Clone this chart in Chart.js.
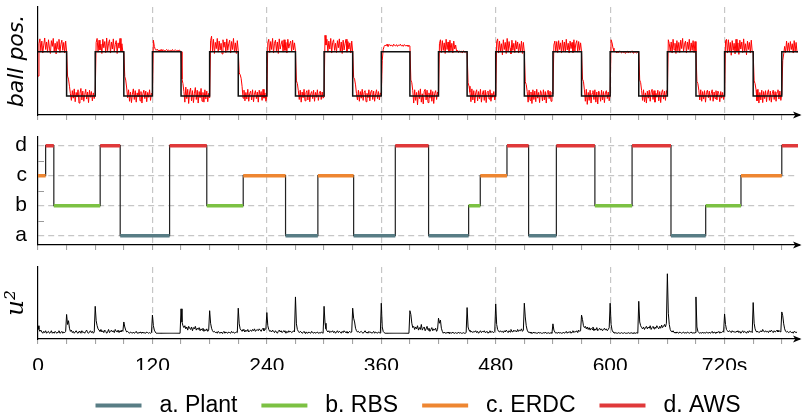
<!DOCTYPE html>
<html><head><meta charset="utf-8">
<script src="https://cdn.jsdelivr.net/npm/chart.js@4.4.1/dist/chart.umd.min.js"></script>
<style>
html,body{margin:0;padding:0;background:#fff;overflow:hidden;width:802px;height:418px;}
#wrap{position:relative;width:802px;height:418px;overflow:hidden;background:#fff;}
canvas{position:absolute;left:0;}
</style></head><body>
<div id="wrap">
<canvas id="cPos" width="838" height="125" style="top:0px"></canvas>
<canvas id="cCtrl" width="838" height="130" style="top:125px"></canvas>
<canvas id="cU" width="838" height="172" style="top:255px"></canvas>
</div>
<script>
// ---------------- data ----------------
const xTicks = [0,30,60,90,120,150,180,210,240,270,300,330,360,390,420,450,480,510,540,570,600,630,660,690,720,750,780];
const xLabelTicks = [0,120,240,360,480,600,720];
const xLabelText = ['0','120','240','360','480','600','720s'];

// reference (black square wave), held until next time
const refTimes = [0,30,60,90,120,150,180,210,240,270,300,330,360,390,420,450,480,510,540,570,600,630,660,690,720,750,780,797];
const refLevel = [1,0,1,0,1,0,1,0,1,0,1,0,1,0,1,0,1,0,1,0,1,0,1,0,1,0,1,1];

// measured ball position (red), one sample per second
const ballPos = [
 0.45,1.18,1.29,1.02,1.24,0.97,1.15,1.31,1.05,1.22,0.99,1.27,1.08,0.96,1.25,1.12,1.30,1.01,1.19,0.95,1.23,1.06,1.28,0.98,1.17,1.26,1.03,1.21,0.97,1.24,
 1.00,0.45,0.38,0.22,0.05,-0.10,0.12,-0.05,0.16,-0.13,0.08,-0.02,0.14,-0.16,0.06,0.17,-0.09,0.11,-0.12,0.03,0.15,-0.07,0.09,-0.15,0.13,-0.03,0.10,-0.11,0.07,-0.06,
 0.03,1.21,1.30,0.99,1.26,1.04,1.17,0.96,1.28,1.09,1.23,0.98,1.31,1.02,1.19,1.27,0.97,1.22,1.06,1.29,1.00,1.16,1.25,0.96,1.20,1.08,1.30,1.01,1.18,0.99,
 0.99,0.44,0.36,0.18,-0.04,0.14,-0.12,0.09,-0.15,0.04,0.16,-0.08,0.12,-0.14,0.07,-0.02,0.15,-0.11,0.10,-0.16,0.05,0.13,-0.06,0.11,-0.13,0.08,-0.03,0.14,-0.10,0.06,
 0.02,1.26,1.12,1.05,1.03,1.06,1.02,1.04,1.01,1.05,1.02,1.03,1.04,1.01,1.03,1.05,1.02,1.04,1.01,1.03,1.02,1.05,1.01,1.03,1.04,1.02,1.03,1.01,1.04,1.02,
 1.00,0.38,0.28,0.10,-0.14,0.20,-0.06,0.15,-0.17,0.09,0.18,-0.11,0.12,-0.15,0.05,0.19,-0.08,0.13,-0.16,0.10,-0.04,0.17,-0.12,0.08,-0.14,0.14,-0.07,0.11,-0.13,0.06,
 -0.04,1.25,1.35,1.02,1.28,0.96,1.21,1.07,1.30,0.99,1.24,1.04,1.19,0.95,1.27,1.10,1.22,0.98,1.29,1.03,1.18,1.26,0.97,1.23,1.05,1.30,1.00,1.20,0.96,1.25,
 1.02,0.52,0.48,0.40,0.22,-0.05,0.13,-0.11,0.08,-0.07,0.15,-0.12,0.06,0.11,-0.09,0.14,-0.13,0.04,0.12,-0.06,0.09,-0.14,0.13,-0.02,0.10,-0.10,0.15,-0.05,0.07,-0.12,
 0.00,1.20,1.28,0.98,1.23,1.05,1.30,0.97,1.19,1.26,1.02,1.22,0.96,1.29,1.06,1.17,1.25,0.99,1.27,1.03,1.21,0.97,1.28,1.08,1.18,1.24,1.00,1.26,1.04,1.20,
 1.01,0.34,0.28,0.12,-0.08,0.13,-0.14,0.09,-0.04,0.15,-0.11,0.07,0.12,-0.09,0.14,-0.13,0.05,0.10,-0.06,0.13,-0.12,0.08,-0.03,0.14,-0.10,0.06,0.11,-0.08,0.09,-0.05,
 -0.02,1.37,1.15,1.28,0.99,1.24,1.06,1.30,0.97,1.21,1.27,1.03,1.19,0.98,1.25,1.09,1.29,1.00,1.22,0.96,1.26,1.04,1.18,1.28,0.99,1.23,1.06,1.20,0.97,1.24,
 1.00,0.42,0.38,0.25,0.05,-0.09,0.13,-0.12,0.10,-0.05,0.15,-0.10,0.08,0.12,-0.13,0.06,-0.04,0.14,-0.11,0.09,0.13,-0.08,0.11,-0.12,0.05,0.14,-0.06,0.10,-0.09,0.07,
 0.00,0.80,1.05,1.12,1.15,1.13,1.17,1.12,1.14,1.16,1.13,1.15,1.12,1.17,1.14,1.13,1.16,1.12,1.15,1.14,1.17,1.13,1.15,1.12,1.16,1.14,1.13,1.15,1.12,1.14,
 1.13,0.36,0.30,0.12,-0.16,0.14,-0.10,0.08,-0.20,0.12,-0.06,0.16,-0.14,0.05,-0.18,0.11,0.15,-0.09,0.13,-0.15,0.07,-0.05,0.14,-0.12,0.10,-0.17,0.06,0.12,-0.08,0.09,
 0.02,1.18,1.27,0.98,1.25,1.03,1.20,0.96,1.28,1.05,1.22,0.99,1.26,1.02,1.19,0.97,1.24,1.06,1.15,1.00,1.03,0.98,1.02,0.99,1.01,0.97,1.02,1.00,0.98,1.01,
 0.99,0.30,0.22,0.08,-0.13,0.16,-0.09,0.12,-0.16,0.07,0.14,-0.11,0.10,-0.06,0.15,-0.14,0.04,0.12,-0.10,0.13,-0.15,0.08,0.11,-0.07,0.14,-0.12,0.06,-0.03,0.10,-0.09,
 0.02,1.22,1.29,0.97,1.24,1.02,1.18,0.93,1.27,1.05,1.21,0.96,1.30,1.01,1.23,1.08,0.95,1.26,1.03,1.19,0.98,1.25,1.06,1.22,0.97,1.18,1.01,1.24,0.96,1.21,
 1.00,0.32,0.26,0.10,-0.14,0.13,-0.10,0.09,-0.17,0.14,-0.08,0.11,-0.13,0.15,-0.05,0.08,-0.15,0.12,0.06,-0.11,0.14,-0.09,0.10,-0.16,0.07,0.13,-0.06,0.11,-0.12,0.08,
 0.05,1.15,1.24,1.00,1.23,0.98,1.25,1.05,1.20,0.97,1.26,1.02,1.22,0.99,1.28,1.04,1.19,0.97,1.24,1.07,1.21,0.98,1.27,1.01,1.18,1.25,0.99,1.23,1.03,1.20,
 1.00,0.38,0.33,0.14,-0.12,0.15,-0.19,0.08,-0.10,0.13,-0.16,0.06,0.12,-0.08,0.14,-0.14,0.09,-0.18,0.11,0.05,-0.12,0.13,-0.09,0.10,-0.15,0.07,0.12,-0.06,0.09,-0.11,
 0.03,1.27,1.20,1.08,1.02,0.99,1.01,0.97,1.00,0.98,1.02,0.99,0.97,1.01,0.98,1.00,0.96,0.99,1.01,0.97,1.00,0.98,0.99,1.02,0.97,0.99,1.00,0.98,0.97,0.99,
 0.99,0.36,0.30,0.12,-0.10,0.14,-0.13,0.07,-0.16,0.11,-0.05,0.13,-0.12,0.09,0.15,-0.08,0.12,-0.14,0.06,-0.03,0.13,-0.11,0.10,-0.15,0.08,0.14,-0.07,0.11,-0.10,0.12,
 0.04,1.27,1.18,1.01,1.22,0.97,1.28,1.04,1.19,0.96,1.25,1.02,1.21,0.98,1.26,1.07,1.30,1.00,1.17,1.24,0.97,1.22,1.05,1.28,0.99,1.20,1.03,1.25,0.98,1.23,
 1.00,0.33,0.28,0.13,-0.09,0.14,-0.12,0.10,-0.07,0.12,-0.14,0.08,0.13,-0.04,0.11,-0.10,0.06,0.14,-0.12,0.09,-0.06,0.12,-0.09,0.11,0.05,-0.13,0.10,-0.05,0.08,-0.08,
 0.03,1.24,1.28,0.97,1.27,1.00,1.21,0.92,1.25,1.03,1.19,0.95,1.28,1.01,1.20,0.94,1.26,1.06,1.22,0.98,1.29,1.02,1.18,0.93,1.24,1.05,1.21,0.97,1.26,1.00,
 0.98,0.34,0.28,0.14,-0.11,0.15,-0.16,0.08,-0.09,0.13,-0.15,0.10,-0.06,0.12,-0.13,0.07,0.14,-0.10,0.11,-0.14,0.05,0.13,-0.08,0.10,-0.12,0.09,0.14,-0.07,0.11,-0.10,
 0.05,0.80,0.95,1.12,0.98,1.24,1.02,1.20,0.99,1.23,1.05,1.18,0.97,1.25,1.01,1.21,0.98
];

// active controller: switching times and level held after each switch
const ctrlSwitchT = [0,8,16.6,65.2,86.2,138,177,215.2,259.6,293.5,331,374.7,409.6,451.6,463.8,491.8,514.5,543.6,584,623,663.8,700.2,737.2,780,797];
const ctrlLevel = ['c','d','b','d','a','d','b','c','a','c','a','d','a','b','c','d','a','d','b','d','a','b','c','d'];
const ctrlKeys = ['a','b','c','d'];
const ctrlNames = ['a. Plant','b. RBS','c. ERDC','d. AWS'];
const levelTicks = [1,1.5,2,2.5,3,3.5,4];

// control effort u^2, one sample per second
const uSquared = [
 0.12,0.06,0.03,0.05,0.02,0.00,0.03,0.01,0.04,0.00,0.02,0.03,0.00,0.01,0.04,0.00,0.02,0.00,0.03,0.01,0.00,0.02,0.04,0.00,0.01,0.03,0.00,0.02,0.01,0.03,
 0.30,0.14,0.20,0.08,0.03,0.05,0.01,0.03,0.00,0.02,0.04,0.01,0.00,0.03,0.02,0.00,0.04,0.01,0.02,0.00,0.03,0.05,0.01,0.00,0.02,0.04,0.01,0.03,0.00,0.02,
 0.43,0.20,0.12,0.07,0.05,0.03,0.06,0.02,0.04,0.01,0.05,0.03,0.00,0.02,0.06,0.01,0.03,0.05,0.02,0.04,0.01,0.06,0.03,0.02,0.05,0.01,0.04,0.02,0.05,0.03,
 0.18,0.10,0.05,0.02,0.03,0.01,0.00,0.02,0.01,0.00,0.02,0.00,0.01,0.03,0.00,0.01,0.00,0.02,0.01,0.00,0.02,0.00,0.01,0.00,0.02,0.01,0.00,0.01,0.00,0.01,
 0.29,0.12,0.05,0.02,0.00,0.00,0.00,0.00,0.00,0.00,0.00,0.00,0.00,0.00,0.00,0.00,0.00,0.00,0.00,0.00,0.00,0.00,0.00,0.00,0.00,0.00,0.00,0.00,0.00,0.00,
 0.39,0.18,0.12,0.09,0.12,0.07,0.10,0.05,0.11,0.08,0.06,0.10,0.04,0.09,0.07,0.11,0.05,0.08,0.06,0.09,0.04,0.07,0.05,0.08,0.03,0.06,0.04,0.07,0.03,0.05,
 0.36,0.16,0.08,0.04,0.02,0.03,0.01,0.02,0.00,0.03,0.01,0.00,0.02,0.00,0.01,0.03,0.00,0.02,0.01,0.00,0.02,0.01,0.00,0.03,0.01,0.02,0.00,0.01,0.02,0.01,
 0.40,0.15,0.07,0.05,0.03,0.06,0.04,0.02,0.05,0.03,0.06,0.02,0.04,0.05,0.03,0.06,0.04,0.07,0.03,0.05,0.06,0.04,0.07,0.05,0.03,0.06,0.08,0.04,0.06,0.07,
 0.33,0.12,0.06,0.03,0.04,0.02,0.05,0.03,0.01,0.04,0.02,0.00,0.03,0.05,0.02,0.04,0.01,0.03,0.04,0.02,0.00,0.03,0.01,0.04,0.02,0.03,0.01,0.02,0.04,0.02,
 0.58,0.15,0.06,0.03,0.01,0.03,0.02,0.00,0.01,0.03,0.00,0.02,0.01,0.00,0.02,0.01,0.00,0.03,0.01,0.00,0.02,0.00,0.01,0.02,0.00,0.01,0.00,0.02,0.01,0.00,
 0.43,0.16,0.07,0.04,0.02,0.04,0.01,0.03,0.02,0.04,0.01,0.03,0.00,0.02,0.04,0.01,0.03,0.02,0.00,0.03,0.01,0.04,0.02,0.01,0.03,0.00,0.02,0.03,0.01,0.02,
 0.40,0.24,0.18,0.08,0.04,0.02,0.03,0.01,0.02,0.03,0.01,0.00,0.02,0.04,0.01,0.02,0.00,0.03,0.01,0.02,0.00,0.01,0.03,0.00,0.02,0.01,0.00,0.02,0.01,0.00,
 0.48,0.10,0.03,0.01,0.00,0.00,0.00,0.00,0.00,0.00,0.00,0.00,0.00,0.00,0.00,0.00,0.00,0.00,0.00,0.00,0.00,0.00,0.00,0.00,0.00,0.00,0.00,0.00,0.00,0.00,
 0.36,0.30,0.16,0.09,0.11,0.06,0.10,0.07,0.12,0.05,0.09,0.06,0.14,0.05,0.08,0.10,0.04,0.07,0.11,0.05,0.08,0.03,0.06,0.09,0.04,0.07,0.05,0.08,0.03,0.06,
 0.24,0.16,0.21,0.08,0.03,0.00,0.02,0.00,0.01,0.00,0.02,0.00,0.00,0.01,0.00,0.02,0.00,0.00,0.01,0.00,0.00,0.02,0.00,0.01,0.00,0.00,0.01,0.00,0.00,0.01,
 0.41,0.10,0.05,0.03,0.02,0.03,0.01,0.03,0.02,0.04,0.01,0.03,0.00,0.02,0.04,0.01,0.03,0.02,0.04,0.01,0.02,0.03,0.00,0.02,0.04,0.01,0.03,0.02,0.01,0.03,
 0.47,0.14,0.06,0.03,0.02,0.04,0.02,0.03,0.01,0.04,0.02,0.05,0.03,0.01,0.04,0.02,0.06,0.03,0.02,0.05,0.03,0.04,0.02,0.06,0.03,0.05,0.04,0.07,0.03,0.05,
 0.48,0.26,0.12,0.05,0.02,0.01,0.02,0.00,0.01,0.00,0.02,0.00,0.01,0.00,0.00,0.02,0.00,0.01,0.00,0.00,0.01,0.00,0.02,0.00,0.00,0.01,0.00,0.00,0.01,0.00,
 0.15,0.05,0.02,0.00,0.01,0.00,0.02,0.00,0.01,0.00,0.00,0.02,0.00,0.01,0.03,0.00,0.02,0.01,0.03,0.00,0.02,0.04,0.01,0.03,0.02,0.04,0.01,0.05,0.03,0.04,
 0.29,0.22,0.12,0.09,0.11,0.07,0.10,0.06,0.09,0.05,0.08,0.06,0.10,0.04,0.07,0.05,0.09,0.04,0.06,0.08,0.05,0.07,0.04,0.06,0.08,0.05,0.07,0.04,0.06,0.09,
 0.48,0.14,0.05,0.02,0.01,0.00,0.01,0.00,0.00,0.01,0.00,0.00,0.01,0.00,0.00,0.01,0.00,0.00,0.00,0.01,0.00,0.00,0.01,0.00,0.00,0.01,0.00,0.00,0.01,0.00,
 0.51,0.18,0.12,0.09,0.07,0.10,0.06,0.09,0.11,0.07,0.10,0.08,0.12,0.06,0.09,0.11,0.07,0.10,0.08,0.12,0.09,0.07,0.11,0.08,0.13,0.09,0.11,0.14,0.10,0.16,
 0.95,0.32,0.14,0.06,0.03,0.02,0.04,0.01,0.02,0.00,0.02,0.01,0.00,0.02,0.01,0.00,0.01,0.02,0.00,0.01,0.00,0.02,0.01,0.00,0.01,0.02,0.00,0.01,0.00,0.01,
 0.58,0.10,0.03,0.01,0.00,0.01,0.00,0.02,0.00,0.01,0.00,0.02,0.01,0.00,0.02,0.00,0.01,0.03,0.00,0.02,0.01,0.00,0.02,0.01,0.03,0.00,0.02,0.01,0.03,0.02,
 0.31,0.14,0.06,0.04,0.02,0.04,0.03,0.01,0.04,0.02,0.03,0.01,0.03,0.02,0.04,0.01,0.03,0.00,0.02,0.04,0.01,0.03,0.02,0.00,0.03,0.01,0.04,0.02,0.03,0.01,
 0.49,0.16,0.07,0.03,0.02,0.03,0.01,0.02,0.04,0.02,0.06,0.03,0.02,0.04,0.02,0.03,0.01,0.04,0.02,0.05,0.03,0.01,0.04,0.02,0.03,0.05,0.02,0.04,0.03,0.02,
 0.34,0.28,0.15,0.07,0.03,0.02,0.03,0.01,0.02,0.03,0.01,0.02,0.00,0.03,0.02,0.01,0.02
];
const sampleStep = 1; // seconds between samples

// ---------------- style ----------------
const ctrlColors = ['#587d85', '#7cc143', '#ee8631', '#e0393a'];
const GRID = '#c6c6c6';
const T_MAX = 797;

Chart.defaults.font.family = "'Liberation Sans', Arial, sans-serif";
Chart.defaults.color = '#000';

const axisArrow = {
  id: 'axisArrow',
  afterDraw(chart) {
    const {ctx, chartArea: a} = chart;
    const y = Math.round(a.bottom);
    ctx.save();
    ctx.strokeStyle = '#000'; ctx.lineWidth = 1.2;
    ctx.beginPath(); ctx.moveTo(a.right - 1, y); ctx.lineTo(a.right + 2, y); ctx.stroke();
    ctx.fillStyle = '#000';
    ctx.beginPath();
    ctx.moveTo(a.right + 3.5, y);
    ctx.lineTo(a.right - 5, y - 3.6);
    ctx.lineTo(a.right - 2.8, y);
    ctx.lineTo(a.right - 5, y + 3.6);
    ctx.closePath(); ctx.fill();
    ctx.restore();
  }
};

const innerTicks = {
  id: 'innerTicks',
  afterDraw(chart) {
    const s = chart.scales.y; const a = chart.chartArea; const ctx = chart.ctx;
    ctx.save(); ctx.strokeStyle = '#9a9a9a'; ctx.lineWidth = 1;
    levelTicks.filter(v => !Number.isInteger(v)).forEach(v => {
      const py = Math.round(s.getPixelForValue(v)) + 0.5;
      ctx.beginPath(); ctx.moveTo(a.left, py); ctx.lineTo(a.left + 6, py); ctx.stroke();
    });
    ctx.restore();
  }
};

// centre the legend on the plotting area rather than the whole canvas
const legendOnPlot = {
  id: 'legendOnPlot',
  afterLayout(chart) { if (chart.legend) { chart.legend.left = chart.chartArea.left; } }
};

function xScale(showLabels, height) {
  return {
    type: 'linear', min: 0, max: T_MAX,
    afterBuildTicks: s => { s.ticks = xTicks.map(v => ({value: v})); },
    afterFit: s => { s.height = height; s.paddingLeft = 0; s.paddingRight = 0; },
    ticks: {
      autoSkip: false, maxRotation: 0, minRotation: 0, padding: 10,
      font: {size: 21}, color: '#000',
      callback: v => { if (!showLabels) return ''; const i = xLabelTicks.indexOf(v); return i >= 0 ? xLabelText[i] : ''; }
    },
    grid: {
      color: c => (c.tick && c.tick.value > 0 && xLabelTicks.includes(c.tick.value)) ? GRID : 'rgba(0,0,0,0)',
      lineWidth: 1.2, tickColor: '#9a9a9a', tickLength: 5, tickWidth: 1
    },
    border: {display: true, color: '#000', width: 1.2, dash: [6, 4]}
  };
}
const yWidth = s => { s.width = 38; s.paddingTop = 0; s.paddingBottom = 0; };
const baseOpts = { responsive: false, animation: false, devicePixelRatio: 1, events: [] };

// ---------------- panel 1: ball position ----------------
new Chart(document.getElementById('cPos'), {
  type: 'line',
  data: {
    datasets: [
      { data: refTimes.map((t, i) => ({x: t, y: refLevel[i]})), stepped: true,
        borderColor: '#111', borderWidth: 1.5, pointRadius: 0 },
      { data: ballPos.map((v, i) => ({x: i * sampleStep, y: v})),
        borderColor: '#ff0000', borderWidth: 1, pointRadius: 0, tension: 0 }
    ]
  },
  options: Object.assign({}, baseOpts, {
    layout: {padding: {top: 7, right: 40, left: 0, bottom: 0}},
    plugins: {legend: {display: false}, tooltip: {enabled: false}},
    scales: {
      x: xScale(false, 10),
      y: { min: -0.43, max: 2.01, afterFit: yWidth,
        ticks: {display: false}, grid: {display: false},
        border: {display: true, color: '#000', width: 1.2},
        title: {display: true, text: 'ball pos.', color: '#000',
          font: {family: "'DejaVu Sans', sans-serif", size: 22, style: 'italic', lineHeight: 1.2},
          padding: {top: 4, bottom: 0}} }
    }
  }),
  plugins: [axisArrow]
});

// ---------------- panel 2: active controller ----------------
const levelOf = k => ctrlKeys.indexOf(k) + 1;
const ctrlSets = ctrlKeys.map((k, ci) => {
  const pts = [];
  ctrlLevel.forEach((lv, i) => {
    if (lv === k) {
      pts.push({x: ctrlSwitchT[i], y: levelOf(lv)});
      pts.push({x: ctrlSwitchT[i + 1], y: levelOf(lv)});
      pts.push({x: ctrlSwitchT[i + 1], y: null});
    }
  });
  return { label: ctrlNames[ci], data: pts, borderColor: ctrlColors[ci], backgroundColor: ctrlColors[ci],
    borderWidth: 3.6, pointRadius: 0, spanGaps: false, borderCapStyle: 'butt' };
});
const stepPts = ctrlLevel.map((lv, i) => ({x: ctrlSwitchT[i], y: levelOf(lv)}));
stepPts.push({x: ctrlSwitchT[ctrlSwitchT.length - 1], y: levelOf(ctrlLevel[ctrlLevel.length - 1])});

new Chart(document.getElementById('cCtrl'), {
  type: 'line',
  data: {
    datasets: ctrlSets.concat([{ data: stepPts, stepped: true, borderColor: '#222', borderWidth: 1.2, pointRadius: 0 }])
  },
  options: Object.assign({}, baseOpts, {
    layout: {padding: {top: 12, right: 40, left: 0, bottom: 0}},
    plugins: {legend: {display: false}, tooltip: {enabled: false}},
    scales: {
      x: xScale(false, 10),
      y: { min: 0.69, max: 4.29, afterFit: yWidth,
        afterBuildTicks: s => { s.ticks = levelTicks.map(v => ({value: v})); },
        ticks: {padding: 11, font: {size: 21}, color: '#000',
          callback: v => Number.isInteger(v) ? ctrlKeys[v - 1] : ''},
        grid: {drawTicks: false, lineWidth: 1.2,
          color: c => (c.tick && Number.isInteger(c.tick.value)) ? GRID : 'rgba(0,0,0,0)'},
        border: {display: true, color: '#000', width: 1.2, dash: [6, 4]} }
    }
  }),
  plugins: [axisArrow, innerTicks]
});

// ---------------- panel 3: u^2 ----------------
new Chart(document.getElementById('cU'), {
  type: 'line',
  data: {
    datasets: [{ data: uSquared.map((v, i) => ({x: i * sampleStep, y: v})),
      borderColor: '#000', borderWidth: 1, pointRadius: 0, tension: 0 }]
  },
  options: Object.assign({}, baseOpts, {
    layout: {padding: {top: 12, right: 40, left: 0, bottom: 0}},
    plugins: {
      tooltip: {enabled: false},
      legend: { display: true, position: 'bottom', onClick: () => {},
        labels: { boxWidth: 46, boxHeight: 4, padding: 24, font: {size: 23}, color: '#000',
          generateLabels: () => ctrlNames.map((n, i) => ({ text: ' ' + n, fillStyle: ctrlColors[i],
            strokeStyle: ctrlColors[i], lineWidth: 0, hidden: false, index: i })) } }
    },
    scales: {
      x: xScale(true, 31),
      y: { min: -0.092, max: 1.058, afterFit: yWidth,
        ticks: {display: false}, grid: {display: false},
        border: {display: true, color: '#000', width: 1.2},
        title: {display: true, text: 'u²', color: '#000',
          font: {family: "'DejaVu Serif', serif", size: 25, style: 'italic', lineHeight: 1.2},
          padding: {top: 1, bottom: 0}} }
    }
  }),
  plugins: [axisArrow, legendOnPlot]
});
</script>
</body></html>
